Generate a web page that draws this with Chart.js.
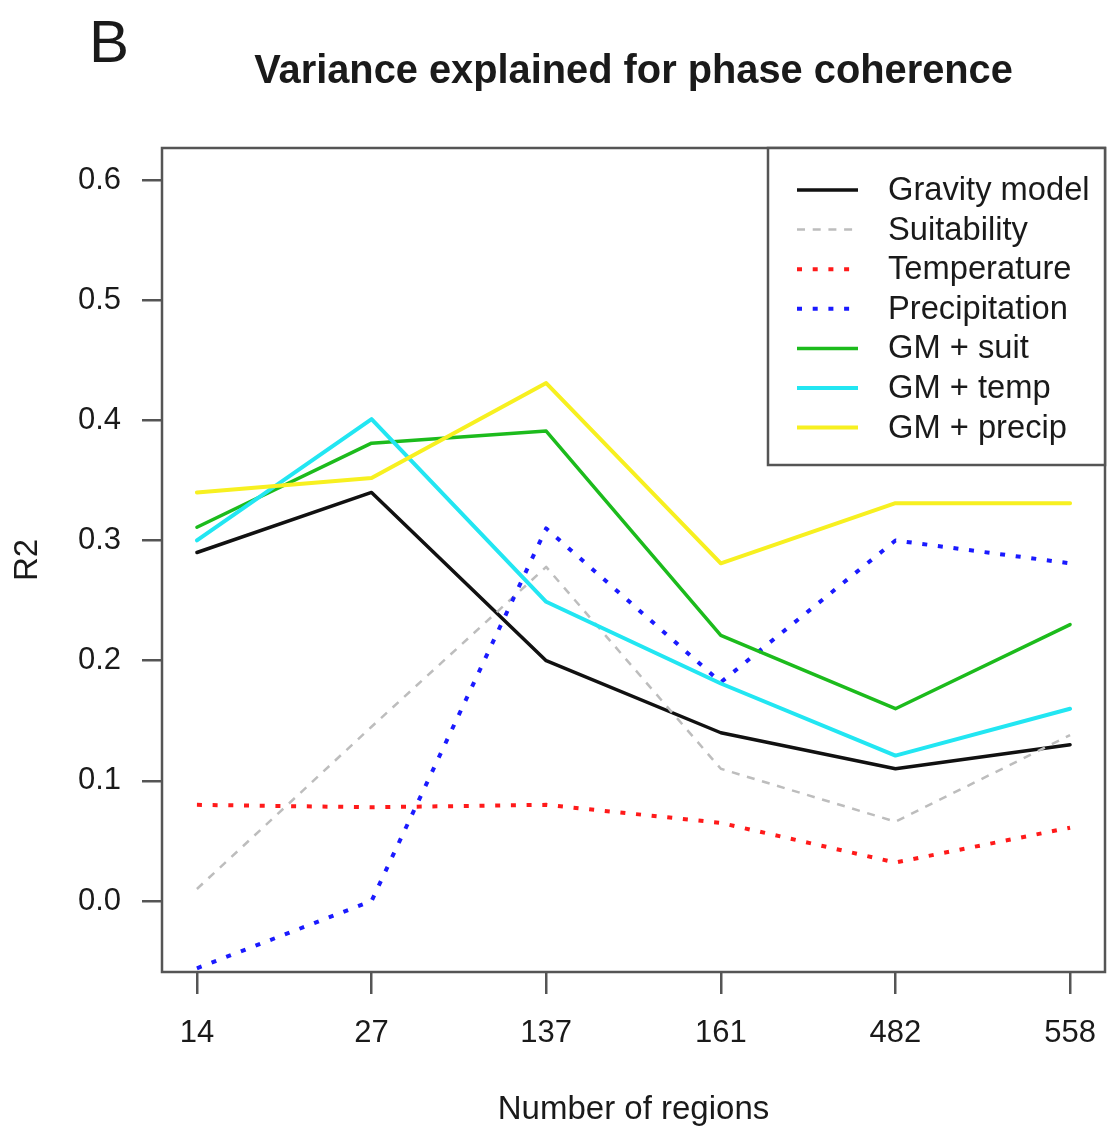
<!DOCTYPE html>
<html>
<head>
<meta charset="utf-8">
<title>Variance explained for phase coherence</title>
<script src="https://cdn.jsdelivr.net/npm/chart.js@4.4.1/dist/chart.umd.min.js"></script>
<style>
    html, body { margin: 0; padding: 0; background: #fff; }
    #wrap { width: 1110px; height: 1131px; }
</style>
</head>
<body>
<div id="wrap"><canvas id="chart" width="1110" height="1131"></canvas></div>
<script>
// data
var regions = ['14', '27', '137', '161', '482', '558'];
var yTicks = [0, 0.1, 0.2, 0.3, 0.4, 0.5, 0.6];

var gravityModel  = [0.290, 0.340, 0.200, 0.140, 0.110, 0.130];
var suitability   = [0.010, 0.145, 0.278, 0.110, 0.066, 0.138];
var temperature   = [0.080, 0.078, 0.080, 0.065, 0.032, 0.061];
var precipitation = [-0.056, 0.000, 0.310, 0.182, 0.300, 0.281];
var gmSuit        = [0.311, 0.381, 0.391, 0.221, 0.160, 0.230];
var gmTemp        = [0.300, 0.401, 0.249, 0.181, 0.121, 0.160];
var gmPrecip      = [0.340, 0.352, 0.431, 0.281, 0.331, 0.331];

var FONT = '"Liberation Sans", Arial, Helvetica, sans-serif';
var TEXT = '#1a1a1a';
var FRAME = '#555555';

function series(label, values, color, width, dash) {
    return { label: label, values: values, color: color, width: width, dash: dash };
}

var allSeries = [
    series('Gravity model', gravityModel, '#111111', 3.5, []),
    series('Suitability', suitability, '#bdbdbd', 2.5, [8, 7.7]),
    series('Temperature', temperature, '#ff1a1a', 4, [5, 10.7]),
    series('Precipitation', precipitation, '#1a1aff', 4, [5, 10.7]),
    series('GM + suit', gmSuit, '#1cbb1c', 3.5, []),
    series('GM + temp', gmTemp, '#22e6f2', 4, []),
    series('GM + precip', gmPrecip, '#f7f020', 4, [])
];

var datasets = allSeries.map(function (s, i) {
    return {
        label: s.label,
        data: s.values.map(function (v, j) { return { x: j + 1, y: v }; }),
        borderColor: s.color,
        backgroundColor: s.color,
        borderWidth: s.width,
        borderDash: s.dash,
        borderCapStyle: s.dash.length ? 'butt' : 'round',
        borderJoinStyle: 'round',
        pointRadius: 0,
        pointHoverRadius: 0,
        tension: 0,
        fill: false,
        order: allSeries.length - i   // later series drawn on top, like R
    };
});

var extras = {
    id: 'extras',
    afterDatasetsDraw: function (chart) {
        var ctx = chart.ctx, a = chart.chartArea;
        ctx.save();
        ctx.strokeStyle = FRAME;
        ctx.lineWidth = 2.5;
        ctx.strokeRect(a.left, a.top, a.right - a.left, a.bottom - a.top);

        // legend box in the top right corner
        var lx = 768, ly = a.top, lw = a.right - lx, lh = 465 - a.top;
        ctx.fillStyle = '#fff';
        ctx.fillRect(lx, ly, lw, lh);
        ctx.strokeRect(lx, ly, lw, lh);

        ctx.font = '32.7px ' + FONT;
        ctx.textBaseline = 'middle';
        ctx.textAlign = 'left';
        chart.data.datasets.forEach(function (ds, i) {
            var y = 190 + i * 39.6;
            ctx.beginPath();
            ctx.strokeStyle = ds.borderColor;
            ctx.lineWidth = ds.borderWidth;
            ctx.setLineDash(ds.borderDash);
            ctx.lineCap = 'butt';
            ctx.moveTo(797, y);
            ctx.lineTo(858, y);
            ctx.stroke();
            ctx.setLineDash([]);
            ctx.fillStyle = TEXT;
            ctx.fillText(ds.label, 888, y + 1);
        });
        ctx.restore();
    },
    afterDraw: function (chart) {
        var ctx = chart.ctx, a = chart.chartArea;
        var mid = (a.left + a.right) / 2;
        ctx.save();
        ctx.fillStyle = TEXT;
        ctx.textBaseline = 'alphabetic';

        ctx.textAlign = 'left';
        ctx.font = '60px ' + FONT;
        ctx.fillText('B', 89, 62);

        ctx.textAlign = 'center';
        ctx.font = 'bold 39.8px ' + FONT;
        ctx.fillText('Variance explained for phase coherence', mid, 83);

        ctx.font = '33px ' + FONT;
        ctx.fillText('Number of regions', mid, 1119);

        ctx.translate(37, (a.top + a.bottom) / 2);
        ctx.rotate(-Math.PI / 2);
        ctx.fillText('R2', 0, 0);
        ctx.restore();
    }
};

new Chart(document.getElementById('chart'), {
    type: 'line',
    data: { datasets: datasets },
    options: {
        responsive: false,
        animation: false,
        layout: { padding: { top: 148, right: 5, left: 0, bottom: 0 } },
        plugins: {
            legend: { display: false },
            title: { display: false },
            tooltip: { enabled: false }
        },
        scales: {
            x: {
                type: 'linear',
                min: 0.8,
                max: 6.2,
                afterBuildTicks: function (scale) {
                    scale.ticks = regions.map(function (r, i) { return { value: i + 1 }; });
                },
                afterFit: function (scale) {
                    scale.height = 159;
                    scale.paddingLeft = 0;
                    scale.paddingRight = 0;
                },
                ticks: {
                    autoSkip: false,
                    maxRotation: 0,
                    padding: 21,
                    color: TEXT,
                    font: { family: FONT, size: 31 },
                    callback: function (v) { return regions[v - 1]; }
                },
                grid: { drawOnChartArea: false, drawTicks: true, tickLength: 22, color: FRAME, lineWidth: 2.5 },
                border: { display: false }
            },
            y: {
                type: 'linear',
                min: -0.0591,
                max: 0.6266,
                afterBuildTicks: function (scale) {
                    scale.ticks = yTicks.map(function (v) { return { value: v }; });
                },
                afterFit: function (scale) { scale.width = 162; },
                ticks: {
                    padding: 21,
                    color: TEXT,
                    font: { family: FONT, size: 31 },
                    callback: function (v) { return v.toFixed(1); }
                },
                grid: { drawOnChartArea: false, drawTicks: true, tickLength: 20, color: FRAME, lineWidth: 2.5 },
                border: { display: false }
            }
        }
    },
    plugins: [extras]
});
</script>
</body>
</html>
